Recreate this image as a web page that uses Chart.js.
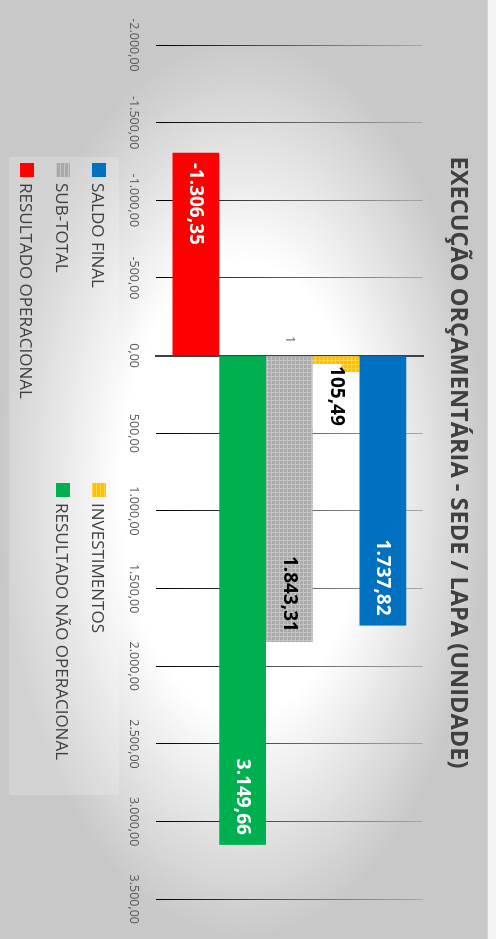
<!DOCTYPE html>
<html>
<head>
<meta charset="utf-8">
<script src="https://cdn.jsdelivr.net/npm/chart.js@4.4.1/dist/chart.umd.min.js"></script>
<style>
  html, body { margin: 0; padding: 0; width: 496px; height: 939px; overflow: hidden; background: #f4f4f4; }
  #stage {
    position: absolute; left: 0; top: 0;
    width: 939px; height: 496px;
    transform-origin: 0 0;
    transform: translateX(496px) rotate(90deg);
  }
  #frame {
    position: absolute; left: 0; top: 8px; width: 939px; height: 488px;
    border-top: 1px solid #d6d6d6;
    background: radial-gradient(ellipse closest-side at 52% 50%, #ffffff 50%, #c8c8c8 100%);
  }
  #chartCanvas { position: absolute; left: 0; top: 0; }
  #legend {
    position: absolute; left: 157px; top: 377px; width: 638px; height: 110px;
    background: rgba(255,255,255,0.18);
    display: grid; grid-template-columns: 320px 320px; grid-auto-rows: 36px;
    padding: 2px 0 0 6px; box-sizing: border-box;
    font-family: 'Open Sans', sans-serif; font-size: 17px; color: #404040;
  }
  .item { display: flex; align-items: center; white-space: nowrap; }
  .box { width: 14px; height: 14px; margin-right: 6px; flex: none; }
</style>
</head>
<body>
<div id="stage">
  <div id="frame"></div>
  <canvas id="chartCanvas" width="939" height="392"></canvas>
  <div id="legend"></div>
</div>
<script>
const categories = ['1'];
const seriesNames = ['SALDO FINAL', 'INVESTIMENTOS', 'SUB-TOTAL', 'RESULTADO NÃO OPERACIONAL', 'RESULTADO OPERACIONAL'];
const seriesValues = [1737.82, 105.49, 1843.31, 3149.66, -1306.35];
const seriesColors = ['#0070c0', '#ffc000', '#ababab', '#00b050', '#ff0000'];
const labelColors = ['#ffffff', '#000000', '#000000', '#ffffff', '#ffffff'];
const valueMin = -2000;
const valueMax = 3500;
const valueStep = 500;

function fmt(v) {
    const neg = v < 0;
    const parts = Math.abs(v).toFixed(2).split('.');
    const whole = parts[0].replace(/\B(?=(\d{3})+(?!\d))/g, '.');
    return (neg ? '-' : '') + whole + ',' + parts[1];
}

const ctx = document.getElementById('chartCanvas').getContext('2d');

function dotted(base, dot) {
    const c = document.createElement('canvas');
    c.width = 4; c.height = 4;
    const p = c.getContext('2d');
    p.fillStyle = base; p.fillRect(0, 0, 4, 4);
    p.fillStyle = dot;
    p.fillRect(0, 0, 4, 1); p.fillRect(0, 0, 1, 4);
    return ctx.createPattern(c, 'repeat');
}

const fills = seriesColors.slice();
fills[1] = dotted('#ffc000', '#ffd34d');
fills[2] = dotted('#a9a9a9', '#c4c4c4');

const datasets = seriesNames.map((name, i) => ({
    label: name,
    data: [seriesValues[i]],
    backgroundColor: fills[i],
    labelColor: labelColors[i],
    barPercentage: 1,
    categoryPercentage: 0.877
}));

const barLabels = {
    id: 'barLabels',
    afterDatasetsDraw(chart) {
        const c = chart.ctx;
        c.save();
        c.font = 'bold 19px "Open Sans"';
        c.textBaseline = 'middle';
        chart.data.datasets.forEach((ds, i) => {
            chart.getDatasetMeta(i).data.forEach((bar, j) => {
                const text = fmt(ds.data[j]);
                const w = c.measureText(text).width;
                const dir = bar.x >= bar.base ? 1 : -1;
                const len = Math.abs(bar.x - bar.base);
                const pad = 10;
                let x;
                if (len >= w + 2 * pad) {
                    c.textAlign = dir > 0 ? 'right' : 'left';
                    x = bar.x - dir * pad;
                } else {
                    c.textAlign = dir > 0 ? 'left' : 'right';
                    x = bar.x - dir * 6;
                    c.fillStyle = '#ffffff';
                    c.fillRect(dir > 0 ? x - 2 : x - w - 2, bar.y - bar.height / 2 + 18, w + 4, bar.height - 18);
                }
                c.fillStyle = ds.labelColor;
                c.fillText(text, x, bar.y);
            });
        });
        c.restore();
    }
};

// title sits a little left of the plot centre in the original
const titleShift = {
    id: 'titleShift',
    afterLayout(chart) {
        if (chart.titleBlock) {
            chart.titleBlock.left -= 13;
            chart.titleBlock.right -= 13;
        }
    }
};

Chart.defaults.font.family = "'Open Sans', sans-serif";

const chart = new Chart(ctx, {
    type: 'bar',
    data: { labels: categories, datasets: datasets },
    options: {
        indexAxis: 'y',
        responsive: false,
        animation: false,
        layout: { padding: { left: 45, right: 33, top: 0, bottom: 7 } },
        scales: {
            x: {
                min: valueMin,
                max: valueMax,
                border: { display: false },
                grid: {
                    drawTicks: false,
                    lineWidth: 1,
                    color: (c) => {
                        const a = c.chart.chartArea;
                        if (!a) return '#808080';
                        const g = c.chart.ctx.createLinearGradient(0, a.bottom, 0, a.top);
                        g.addColorStop(0, '#000000');
                        g.addColorStop(0.5, '#5e5e5e');
                        g.addColorStop(1, '#a8a8a8');
                        return g;
                    }
                },
                ticks: {
                    stepSize: valueStep,
                    padding: 15,
                    color: '#595959',
                    font: { size: 12.5 },
                    callback: (v) => fmt(v)
                }
            },
            y: {
                position: { x: 0 },
                grid: { display: false, drawTicks: false },
                border: { display: true, color: '#404040', width: 2 },
                ticks: {
                    color: '#595959',
                    font: { size: 12.5 },
                    // axis sits on zero, so keep a gap before the line
                    callback: (v, i) => categories[i] + '\u2003'
                }
            }
        },
        plugins: {
            legend: { display: false },
            tooltip: { enabled: false },
            title: {
                display: true,
                text: 'EXECUÇÃO ORÇAMENTÁRIA - SEDE / LAPA (UNIDADE)',
                color: '#404040',
                font: { size: 23.6, weight: 'bold' },
                padding: { top: 24, bottom: 21 }
            }
        }
    },
    plugins: [barLabels, titleShift]
});

// legend built from the same series arrays
const legendEl = document.getElementById('legend');
seriesNames.forEach((name, i) => {
    const item = document.createElement('div');
    item.className = 'item';
    const box = document.createElement('span');
    box.className = 'box';
    box.style.background = seriesColors[i];
    if (i === 1) box.style.background = 'repeating-linear-gradient(0deg,#ffd34d 0 1px,#ffc000 1px 4px)';
    if (i === 2) box.style.background = 'repeating-linear-gradient(0deg,#c4c4c4 0 1px,#a9a9a9 1px 4px)';
    const txt = document.createElement('span');
    txt.textContent = name;
    item.appendChild(box);
    item.appendChild(txt);
    legendEl.appendChild(item);
});
</script>
</body>
</html>
